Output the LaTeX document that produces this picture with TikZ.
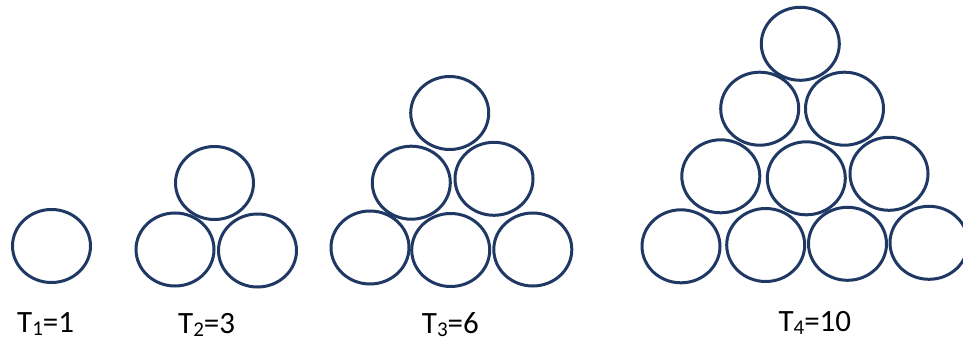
\documentclass[tikz,border=0pt]{standalone}
\usepackage{fontspec}
\setmainfont{Carlito}
\usetikzlibrary{shapes.geometric}
\definecolor{navy}{RGB}{31,56,100}
\newcommand{\lowsub}[1]{\raisebox{-2.5pt}{\fontsize{21}{21}\selectfont #1}}
\tikzset{
  ball/.style={ellipse, draw=navy, line width=3pt, minimum width=78pt, minimum height=73pt, inner sep=0pt},
  lbl/.style={anchor=base west, inner sep=0pt, font=\fontsize{31}{36}\selectfont, text=black}
}
\begin{document}
\begin{tikzpicture}[x=1pt,y=-1pt]
\useasboundingbox (0,0) rectangle (963,339);
% T1
\node[ball] (a1) at (51.5,246) {};
% T2
\node[ball] (b1) at (214.5,183) {};
\node[ball] (b2) at (175,249.5) {};
\node[ball] (b3) at (257.5,250.5) {};
% T3
\node[ball] (c1) at (449.7,113) {};
\node[ball] (c2) at (411.3,182.7) {};
\node[ball] (c3) at (494,178.8) {};
\node[ball] (c4) at (370,247.5) {};
\node[ball] (c5) at (450.7,250) {};
\node[ball] (c6) at (532.8,249.5) {};
% T4
\node[ball] (d1) at (800.3,43.8) {};
\node[ball] (d2) at (759.7,108.7) {};
\node[ball] (d3) at (844.5,108.7) {};
\node[ball] (d4) at (720.8,176.3) {};
\node[ball] (d5) at (806.3,178.3) {};
\node[ball] (d6) at (889,173.8) {};
\node[ball] (d7) at (681,246.3) {};
\node[ball] (d8) at (765.7,245) {};
\node[ball] (d9) at (847.5,243.8) {};
\node[ball] (d10) at (929,242.8) {};
% labels
\node[lbl] (t1) at (17,332.5) {T\lowsub{1}=1};
\node[lbl] (t2) at (178,333.5) {T\lowsub{2}=3};
\node[lbl] (t3) at (421.7,333.5) {T\lowsub{3}=6};
\node[lbl] (t4) at (778.3,331.5) {T\lowsub{4}=10};
\end{tikzpicture}
\end{document}
